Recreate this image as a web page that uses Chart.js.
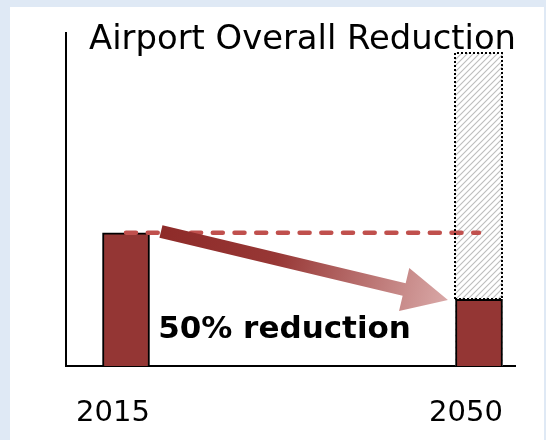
<!DOCTYPE html>
<html><head><meta charset="utf-8">
<script src="https://cdn.jsdelivr.net/npm/chart.js@4/dist/chart.umd.min.js"></script>
<style>
html,body{margin:0;padding:0;background:#dfe9f5;width:546px;height:440px;overflow:hidden}
#wrap{position:absolute;left:10px;top:7px;width:534px;height:433px;background:#fff}
canvas{display:block}
</style></head><body>
<div id="wrap"><canvas id="c" width="534" height="433"></canvas></div>
<script>
const categories = ['2015', '2050'];
const actualEmissions = [100, 50];
const businessAsUsual = [null, 235];
const baselineLevel = [100, 100];
const titleText = 'Airport Overall Reduction';
const reductionLabel = '50% reduction';
const arrowFrom = {x: 0.099, y: 101};
const arrowTo = {x: 0.912, y: 49.6};
const labelAt = {x: 0.091, y: 21};

function hatchPattern(ctx) {
  const n = 6;
  const p = document.createElement('canvas');
  p.width = n; p.height = n;
  const g = p.getContext('2d');
  g.fillStyle = '#fff'; g.fillRect(0, 0, n, n);
  g.strokeStyle = '#bdbdbd'; g.lineWidth = 1.1;
  g.beginPath();
  g.moveTo(0, n); g.lineTo(n, 0);
  g.moveTo(-1, 1); g.lineTo(1, -1);
  g.moveTo(n - 1, n + 1); g.lineTo(n + 1, n - 1);
  g.stroke();
  return ctx.createPattern(p, 'repeat');
}

const ctx = document.getElementById('c').getContext('2d');
const toXY = (arr) => arr.map((v, i) => ({x: i, y: v})).filter(p => p.y !== null);

const overlay = {
  id: 'overlay',
  afterDatasetsDraw(chart) {
    const c = chart.ctx, xs = chart.scales.x, ys = chart.scales.y;
    const bau = chart.getDatasetMeta(0).data[0];
    const act = chart.getDatasetMeta(1).data[1];
    if (bau && act) {
      const l = Math.round(bau.x - bau.width / 2), r = Math.round(bau.x + bau.width / 2);
      const t = Math.round(bau.y), b = Math.round(act.y);
      c.save();
      c.strokeStyle = '#000'; c.lineWidth = 2; c.setLineDash([2, 2]);
      c.beginPath();
      c.moveTo(l, b); c.lineTo(l, t); c.lineTo(r, t); c.lineTo(r, b); c.lineTo(l, b);
      c.stroke();
      c.restore();
    }
    const sx = xs.getPixelForValue(arrowFrom.x), sy = ys.getPixelForValue(arrowFrom.y);
    const tx = xs.getPixelForValue(arrowTo.x), ty = ys.getPixelForValue(arrowTo.y);
    const ang = Math.atan2(ty - sy, tx - sx), len = Math.hypot(tx - sx, ty - sy);
    const hw = 6.5, hl = 45, hh = 22;
    c.save();
    c.translate(sx, sy); c.rotate(ang);
    const gr = c.createLinearGradient(0, 0, len, 0);
    gr.addColorStop(0, '#8e2b29');
    gr.addColorStop(0.4, '#973735');
    gr.addColorStop(1, '#d9a8a7');
    c.fillStyle = gr;
    c.beginPath();
    c.moveTo(0, -hw); c.lineTo(len - hl, -hw); c.lineTo(len - hl, -hh); c.lineTo(len, 0);
    c.lineTo(len - hl, hh); c.lineTo(len - hl, hw); c.lineTo(0, hw); c.closePath();
    c.fill();
    c.restore();
    c.save();
    c.fillStyle = '#000';
    c.font = 'bold 31px "DejaVu Sans"';
    c.textBaseline = 'alphabetic'; c.textAlign = 'left';
    c.fillText(reductionLabel, xs.getPixelForValue(labelAt.x), ys.getPixelForValue(labelAt.y));
    c.font = '33.8px "DejaVu Sans"';
    c.textAlign = 'right';
    c.fillText(titleText, chart.chartArea.right + 1, 42);
    c.restore();
  }
};

new Chart(ctx, {
  type: 'bar',
  data: {
    datasets: [
      {
        label: 'Business as usual',
        data: toXY(businessAsUsual),
        backgroundColor: hatchPattern(ctx),
        borderWidth: 0,
        barThickness: 47,
        order: 3
      },
      {
        label: 'Emissions',
        data: toXY(actualEmissions),
        backgroundColor: '#943634',
        borderColor: '#000',
        borderWidth: 2,
        barThickness: 47,
        order: 2
      },
      {
        type: 'line',
        label: 'Baseline',
        data: toXY(baselineLevel),
        borderColor: '#c0504d',
        borderWidth: 4.5,
        borderDash: [10, 11.7],
        borderCapStyle: 'round',
        pointRadius: 0,
        fill: false,
        order: 1
      }
    ]
  },
  options: {
    responsive: false,
    animation: false,
    devicePixelRatio: 1,
    layout: {padding: {left: 56, right: 29, top: 26, bottom: 0}},
    datasets: {bar: {grouped: false}},
    plugins: {legend: {display: false}, tooltip: {enabled: false}, title: {display: false}},
    scales: {
      x: {
        type: 'linear', min: -0.17, max: 1.102, offset: false,
        grid: {display: false, drawTicks: false, offset: false},
        border: {display: true, color: '#000', width: 2},
        afterBuildTicks: (s) => { s.ticks = categories.map((_, i) => ({value: i})); },
        afterFit: (s) => { s.height = 74; s.paddingLeft = 0; s.paddingRight = 0; },
        ticks: {
          callback: (v, i) => categories[i],
          autoSkip: false, maxRotation: 0, padding: 30, labelOffset: -13,
          color: '#000', font: {family: '"DejaVu Sans"', size: 29}
        }
      },
      y: {
        min: 0, max: 250,
        grid: {display: false, drawTicks: false},
        border: {display: true, color: '#000', width: 2},
        ticks: {display: false}
      }
    }
  },
  plugins: [overlay]
});
</script>
</body></html>
